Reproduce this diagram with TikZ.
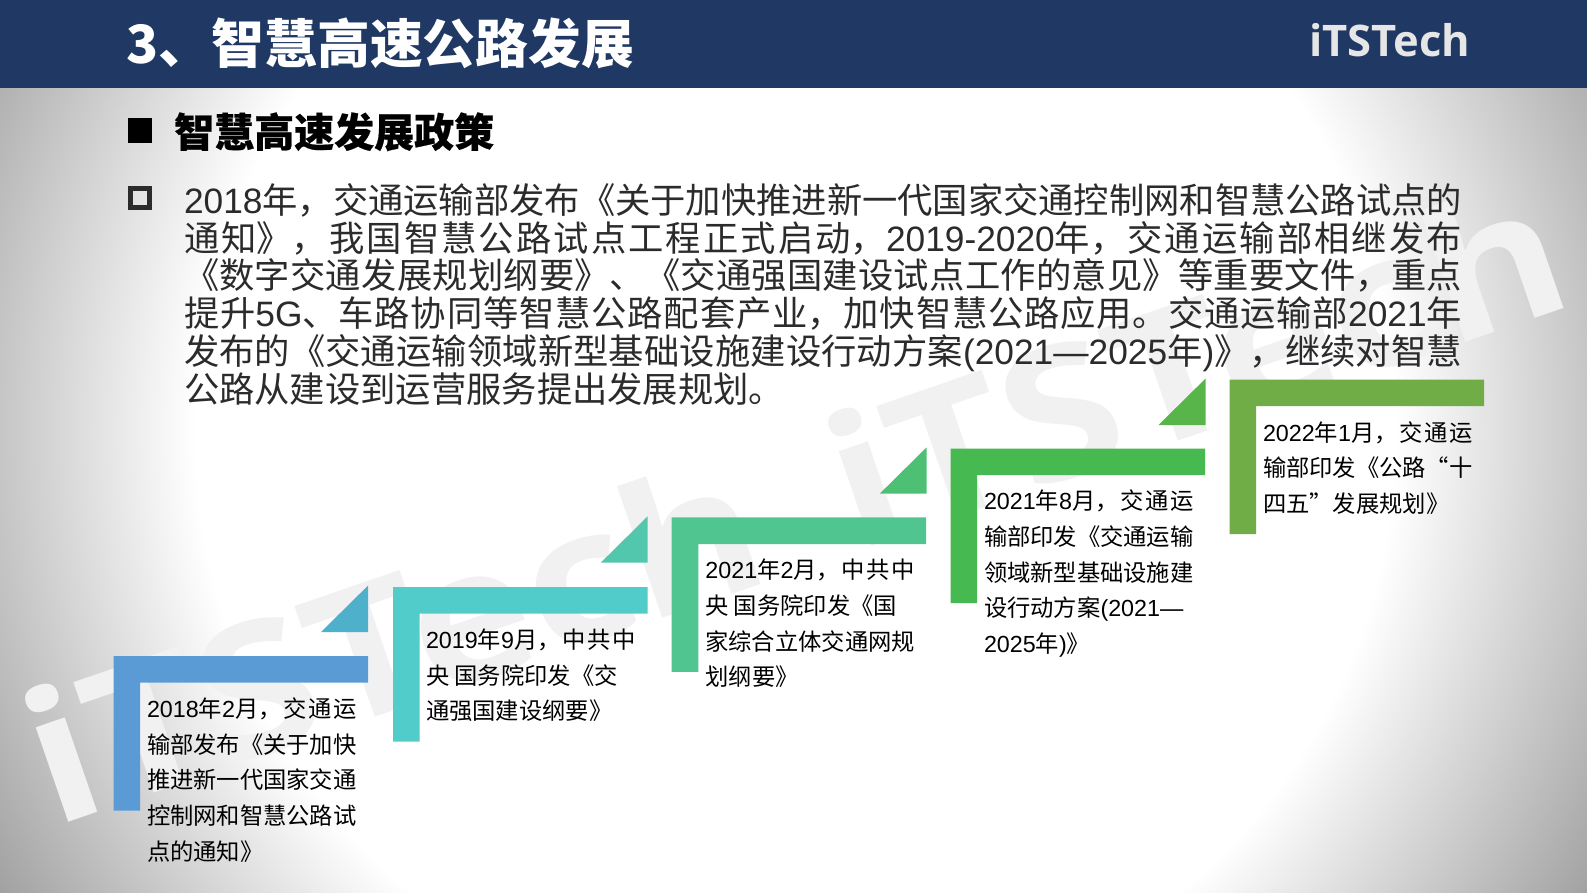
\documentclass[tikz,border=0pt]{standalone}
\usepackage{fontspec}
\setmainfont{Noto Sans CJK SC}
\newfontfamily\latf{Liberation Sans}
\newfontfamily\logof{Open Sans}
\newfontfamily\wmf[BoldFeatures={FakeStretch=1.127}]{Open Sans}
\newfontfamily\subf[BoldFeatures={FakeBold=0.5}]{Noto Sans CJK SC}
\newcommand{\lat}[1]{{\latf #1}}
\newcommand{\jpar}[2]{\parbox[t]{#1}{\XeTeXlinebreaklocale "zh"\XeTeXlinebreakskip=0pt plus 8pt minus .4pt\relax\tolerance=9999 \hbadness=10000 \hfuzz=4pt #2}}
\definecolor{headbg}{HTML}{1F3864}
\definecolor{bodytx}{HTML}{2B2B2B}
\definecolor{wmark}{HTML}{F1F1F1}
\definecolor{logoc}{HTML}{E6E6E6}
\definecolor{bA}{HTML}{5B9BD5}
\definecolor{bB}{HTML}{52CBCB}
\definecolor{bC}{HTML}{50C58F}
\definecolor{bD}{HTML}{46B950}
\definecolor{bE}{HTML}{70AD47}
\definecolor{tA}{HTML}{4FB0CC}
\definecolor{tB}{HTML}{52C7AE}
\definecolor{tC}{HTML}{4DC074}
\definecolor{tD}{HTML}{58B54A}
\pgfdeclareradialshading{slidebg}{\pgfpoint{0bp}{0bp}}{color(0bp)=(white);color(15bp)=(white);color(25bp)=(black!46);color(50bp)=(black!46)}
\tikzset{
  bx/.style={inner sep=0pt,outer sep=0pt,anchor=base west,font=\fontsize{23.3}{35.7}\selectfont,text=black},
  wm/.style={inner sep=0pt,anchor=base west,rotate=19,text=wmark,font=\fontsize{183}{183}\wmf\bfseries},
}
% #1 x, #2 y, #3 colour
\newcommand{\bracket}[3]{\fill[#3] (#1,#2) -- ++(254.5,0) -- ++(0,26.7) -- ++(-227.8,0) -- ++(0,127.8) -- ++(-26.7,0) -- cycle;}
% #1 right, #2 bottom, #3 colour
\newcommand{\wedgetri}[3]{\fill[#3] (#1,#2) -- ++(-47,0) -- ++(47,-46.4) -- cycle;}
\begin{document}
\begin{tikzpicture}[x=1pt,y=-1pt]
\useasboundingbox (0,0) rectangle (1587,893);
\begin{scope}
  \clip (0,0) rectangle (1587,893);
  \shade[shading=slidebg] (-205,-570) rectangle (1795,1430);
  \node[wm] (wma) at (53,828) {iTSTech};
  \node[wm] (wmb) at (856,552) {iTSTech};
\end{scope}
\fill[headbg] (0,0) rectangle (1587,88);
\node[inner sep=0pt,anchor=base west,text=white,font=\fontsize{52.8}{53}\selectfont\bfseries] (title) at (126.5,63.5) {3、智慧高速公路发展};
\node[inner sep=0pt,anchor=base west,text=logoc,font=\fontsize{43.5}{43.5}\logof\bfseries] (logo) at (1309,57) {iTSTech};
\fill[black] (128,118.5) rectangle (152,143);
\node[inner sep=0pt,anchor=base west,text=black,font=\fontsize{40}{40}\subf\bfseries] (sub) at (174,147) {智慧高速发展政策};
\draw[bodytx,line width=5pt] (130.5,188.5) rectangle (149.5,207.5);
\node[inner sep=0pt,outer sep=0pt,anchor=base west,text=bodytx,font=\fontsize{35.3}{37.75}\selectfont] (body) at (184,213.5) {\jpar{1278pt}{%
\lat{2018}年，交通运输部发布《关于加快推进新一代国家交通控制网和智慧公路试点的\break
通知》，我国智慧公路试点工程正式启动，\lat{2019-2020}年，交通运输部相继发布\break
《数字交通发展规划纲要》、《交通强国建设试点工作的意见》等重要文件，重点\break
提升\lat{5G}、车路协同等智慧公路配套产业，加快智慧公路应用。交通运输部\lat{2021}年\break
发布的《交通运输领域新型基础设施建设行动方案\lat{(2021—2025}年\lat{)}》，继续对智慧\break
公路从建设到运营服务提出发展规划。}};
\bracket{113.5}{656}{bA}
\bracket{393}{587}{bB}
\bracket{671.7}{517.3}{bC}
\bracket{950.5}{448.5}{bD}
\bracket{1229.5}{379.5}{bE}
\wedgetri{368}{632}{tA}
\wedgetri{647.7}{562.7}{tB}
\wedgetri{926.7}{493.7}{tC}
\wedgetri{1205.5}{425}{tD}
\node[bx] (boxa) at (147,717.4) {\jpar{209.5pt}{%
\lat{2018}年\lat{2}月，交通运\break
输部发布《关于加快\break
推进新一代国家交通\break
控制网和智慧公路试\break
点的通知》}};
\node[bx] (boxb) at (426,648.4) {\jpar{209.5pt}{%
\lat{2019}年\lat{9}月，中共中\break
央 国务院印发《交\hfil\break
通强国建设纲要》}};
\node[bx] (boxc) at (705.4,578.7) {\jpar{209.5pt}{%
\lat{2021}年\lat{2}月，中共中\break
央 国务院印发《国\hfil\break
家综合立体交通网规\break
划纲要》}};
\node[bx] (boxd) at (984,509.8) {\jpar{209.5pt}{%
\lat{2021}年\lat{8}月，交通运\break
输部印发《交通运输\break
领域新型基础设施建\break
设行动方案\lat{(2021—}\hfil\break
\lat{2025}年\lat{)}》}};
\node[bx] (boxe) at (1263,441) {\jpar{209.5pt}{%
\lat{2022}年\lat{1}月，交通运\break
输部印发《公路“十\break
四五”发展规划》}};
\end{tikzpicture}
\end{document}
